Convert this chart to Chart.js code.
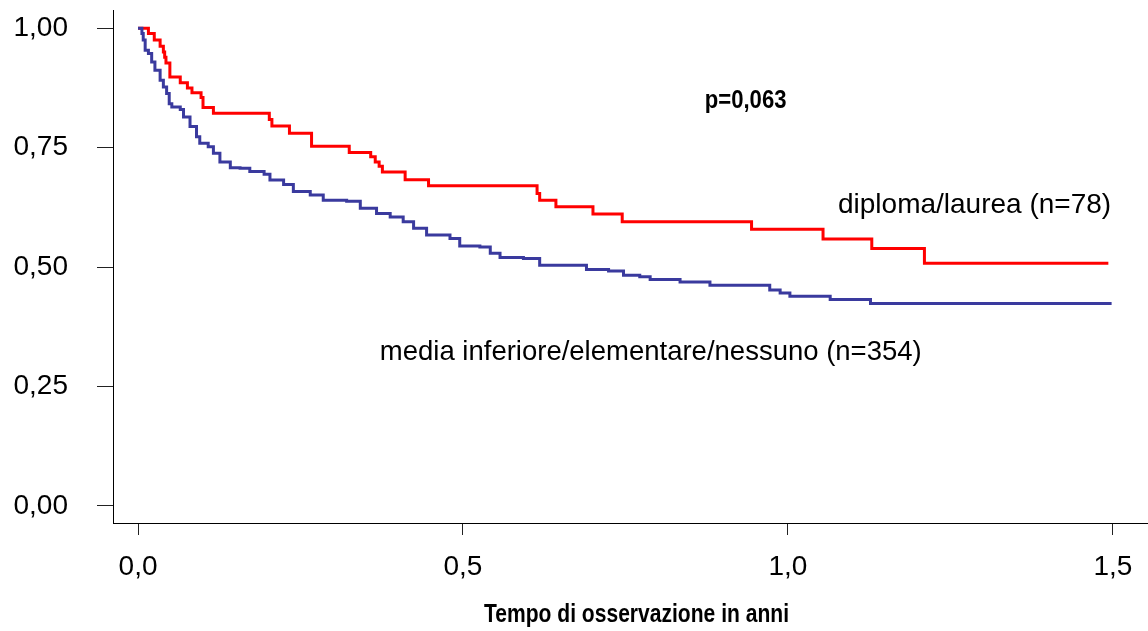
<html>
    <head>
        <title>Sopravvivenza per titolo di studio</title>
        <script src="https://cdn.jsdelivr.net/npm/chart.js/dist/chart.umd.min.js"></script>
        <style>
            body { margin: 0; background: #fff; }
            #wrap { width: 1148px; height: 631px; }
        </style>
    </head>
    <body>
        <div id="wrap"><canvas id="myChart"></canvas></div>
        <script>
            // diploma/laurea (n=78)
            var redTimes = [0, 0.016, 0.025, 0.034, 0.039, 0.041, 0.043, 0.049, 0.065, 0.076, 0.083, 0.097, 0.100, 0.116,
                0.202, 0.206, 0.233, 0.267, 0.325, 0.358, 0.365, 0.371, 0.376, 0.411, 0.447, 0.614, 0.618, 0.643,
                0.700, 0.745, 0.944, 1.054, 1.129, 1.210, 1.493];
            var redSurv = [1.000, 0.989, 0.975, 0.962, 0.950, 0.939, 0.927, 0.898, 0.886, 0.875, 0.865, 0.855, 0.834, 0.822,
                0.809, 0.795, 0.780, 0.753, 0.740, 0.731, 0.720, 0.711, 0.699, 0.683, 0.670, 0.654, 0.640, 0.626,
                0.611, 0.595, 0.579, 0.559, 0.539, 0.508, 0.508];

            // media inferiore/elementare/nessuno (n=354)
            var blueTimes = [0, 0.006, 0.008, 0.011, 0.016, 0.021, 0.026, 0.034, 0.039, 0.044, 0.048, 0.052, 0.065, 0.070,
                0.080, 0.090, 0.095, 0.108, 0.116, 0.126, 0.142, 0.157, 0.172, 0.194, 0.203, 0.224, 0.239, 0.265,
                0.285, 0.321, 0.342, 0.367, 0.388, 0.408, 0.424, 0.444, 0.480, 0.495, 0.526, 0.542, 0.557, 0.593,
                0.618, 0.690, 0.724, 0.747, 0.772, 0.788, 0.834, 0.880, 0.972, 0.988, 1.003, 1.065, 1.127, 1.498];
            var blueSurv = [1.000, 0.989, 0.975, 0.954, 0.947, 0.929, 0.912, 0.891, 0.877, 0.863, 0.842, 0.835, 0.830, 0.814,
                0.794, 0.773, 0.759, 0.752, 0.738, 0.720, 0.708, 0.707, 0.700, 0.694, 0.682, 0.673, 0.658, 0.651,
                0.640, 0.638, 0.623, 0.612, 0.605, 0.595, 0.581, 0.567, 0.560, 0.544, 0.542, 0.529, 0.520, 0.518,
                0.504, 0.495, 0.492, 0.483, 0.480, 0.474, 0.469, 0.462, 0.452, 0.446, 0.439, 0.432, 0.424, 0.424];

            var yTickValues = [0, 0.25, 0.5, 0.75, 1.0];
            var xTickValues = [0, 0.5, 1.0, 1.5];
            var xTitle = 'Tempo di osservazione in anni';

            // labels placed in data coordinates; narrow = horizontal squeeze for the condensed bold face
            var notes = [
                { text: "p=0,063", x: 0.872, y: 0.833, font: "bold 26px 'Liberation Sans', Arial", narrow: 0.85 },
                { text: "diploma/laurea (n=78)", x: 1.077, y: 0.613, font: "28px 'Liberation Sans', Arial", narrow: 1 },
                { text: "media inferiore/elementare/nessuno (n=354)", x: 0.372, y: 0.305, font: "27.5px 'Liberation Sans', Arial", narrow: 1 },
            ];

            function toPoints(ts, ss) {
                return ts.map((t, i) => ({ x: t, y: ss[i] }));
            }

            function squeezedText(ctx, text, x, y, sx) {
                ctx.save();
                ctx.translate(x, y);
                ctx.scale(sx, 1);
                ctx.fillText(text, 0, 0);
                ctx.restore();
            }

            var notesPlugin = {
                id: 'notes',
                afterDatasetsDraw(chart) {
                    var ctx = chart.ctx;
                    ctx.save();
                    ctx.fillStyle = '#000';
                    ctx.textBaseline = 'alphabetic';
                    ctx.textAlign = 'left';
                    notes.forEach(n => {
                        ctx.font = n.font;
                        squeezedText(ctx, n.text, chart.scales.x.getPixelForValue(n.x), chart.scales.y.getPixelForValue(n.y), n.narrow);
                    });
                    // axis title
                    ctx.font = "bold 26px 'Liberation Sans', Arial";
                    ctx.textAlign = 'center';
                    var cx = (chart.chartArea.left + chart.chartArea.right) / 2 + 6;
                    squeezedText(ctx, xTitle, cx, chart.height - 9, 0.81);
                    ctx.restore();
                }
            };

            const ctx = document.getElementById('myChart').getContext('2d');
            const myChart = new Chart(ctx, {
                type: 'line',
                data: {
                    datasets: [
                        {
                            label: 'media inferiore/elementare/nessuno (n=354)',
                            data: toPoints(blueTimes, blueSurv),
                            borderColor: '#3a3a9e',
                            borderWidth: 3,
                            stepped: true,
                            pointRadius: 0,
                        },
                        {
                            label: 'diploma/laurea (n=78)',
                            data: toPoints(redTimes, redSurv),
                            borderColor: '#ff0000',
                            borderWidth: 3,
                            stepped: true,
                            pointRadius: 0,
                        },
                    ],
                },
                options: {
                    responsive: true,
                    maintainAspectRatio: false,
                    animation: false,
                    layout: { padding: { top: 10, left: 0, right: 0, bottom: 0 } },
                    plugins: {
                        legend: { display: false },
                        tooltip: { enabled: false },
                    },
                    scales: {
                        x: {
                            type: 'linear',
                            min: -0.0385,
                            max: 1.554,
                            afterBuildTicks: s => { s.ticks = xTickValues.map(v => ({ value: v })); },
                            afterFit: s => { s.height = 108; s.paddingLeft = 0; s.paddingRight = 0; },
                            grid: { drawOnChartArea: false, drawTicks: true, tickLength: 12, color: '#222' },
                            border: { display: true, color: '#000', width: 1 },
                            ticks: {
                                color: '#000',
                                padding: 15,
                                maxRotation: 0,
                                font: { family: "'Liberation Sans', Arial", size: 28 },
                                callback: v => v.toFixed(1).replace('.', ','),
                            },
                        },
                        y: {
                            min: -0.0356,
                            max: 1.038,
                            afterBuildTicks: s => { s.ticks = yTickValues.map(v => ({ value: v })); },
                            afterFit: s => { s.width = 113; s.paddingTop = 0; s.paddingBottom = 0; },
                            grid: { drawOnChartArea: false, drawTicks: true, tickLength: 16, color: '#222' },
                            border: { display: true, color: '#000', width: 1 },
                            ticks: {
                                color: '#000',
                                padding: 29,
                                font: { family: "'Liberation Sans', Arial", size: 28 },
                                callback: v => v.toFixed(2).replace('.', ','),
                            },
                        },
                    },
                },
                plugins: [notesPlugin],
            });
        </script>
    </body>
</html>
